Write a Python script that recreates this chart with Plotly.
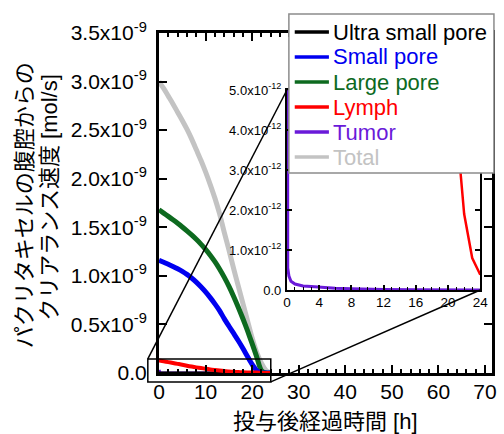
import plotly.graph_objects as go

# ---------------- data ----------------
hours = [0, 1, 2, 3, 4, 5, 6, 7, 8, 9, 10, 11, 12, 13, 14, 15, 16, 17, 18, 19, 20, 21, 22, 23, 24]
# clearance rates, units of 1e-9 mol/s
ultra_small = [0, 0, 0, 0, 0, 0, 0, 0, 0, 0, 0, 0, 0, 0, 0, 0, 0, 0, 0, 0, 0, 0, 0, 0, 0]
small_pore = [1.16, 1.140, 1.119, 1.097, 1.073, 1.046, 1.015, 0.978, 0.936, 0.888, 0.835,
              0.776, 0.712, 0.642, 0.560, 0.484, 0.410, 0.335, 0.255, 0.170, 0.088, 0.025,
              0.0, 0.0, 0.0]
large_pore = [1.68, 1.646, 1.612, 1.577, 1.541, 1.503, 1.463, 1.421, 1.376, 1.327, 1.273,
              1.213, 1.146, 1.071, 0.987, 0.894, 0.791, 0.680, 0.561, 0.435, 0.302, 0.163,
              0.025, 0.0, 0.0]
lymph = [0.130, 0.121, 0.112, 0.103, 0.094, 0.085, 0.075, 0.066, 0.058, 0.051, 0.044, 0.037,
         0.031, 0.025, 0.020, 0.016, 0.0125, 0.0098, 0.0075, 0.0062, 0.0052, 0.0042, 0.0019,
         0.0008, 0.00038]
total = [3.00, 2.93, 2.85, 2.77, 2.685, 2.60, 2.51, 2.41, 2.30, 2.19, 2.07, 1.94, 1.80,
         1.64, 1.45, 1.27, 1.08, 0.90, 0.72, 0.54, 0.36, 0.21, 0.10, 0.025, 0.0]
# tumor, finer time grid, units of 1e-12 mol/s
tumor_hours = [0, 0.1, 0.25, 0.5, 1, 1.5, 2, 3, 4, 5, 6, 8, 10, 12, 16, 20, 24]
tumor = [30, 0.55, 0.35, 0.22, 0.15, 0.12, 0.10, 0.085, 0.07, 0.055, 0.045, 0.03, 0.018,
         0.01, 0.005, 0.002, 0.001]

series_names = ["Ultra small pore", "Small pore", "Large pore", "Lymph", "Tumor", "Total"]
series_colors = ["#000000", "#0000f0", "#0d6a1f", "#ff0000", "#6a1ad9", "#c3c3c3"]

main_x_range = [0, 71.5]
main_y_range = [0, 3.5e-9]
main_y_ticks = [0, 0.5e-9, 1.0e-9, 1.5e-9, 2.0e-9, 2.5e-9, 3.0e-9, 3.5e-9]
main_y_text = ["0.0", "0.5x10<sup>-9</sup>", "1.0x10<sup>-9</sup>", "1.5x10<sup>-9</sup>",
               "2.0x10<sup>-9</sup>", "2.5x10<sup>-9</sup>", "3.0x10<sup>-9</sup>",
               "3.5x10<sup>-9</sup>"]
inset_x_range = [0, 24]
inset_y_range = [0, 5e-12]
inset_y_ticks = [0, 1e-12, 2e-12, 3e-12, 4e-12, 5e-12]
inset_y_text = ["0.0", "1.0x10<sup>-12</sup>", "2.0x10<sup>-12</sup>", "3.0x10<sup>-12</sup>",
                "4.0x10<sup>-12</sup>", "5.0x10<sup>-12</sup>"]
# zoom box drawn on main chart (data units)
zoom_box_x = [-2.4, 24]
zoom_box_y = [-0.092e-9, 0.145e-9]

x_title = "投与後経過時間 [h]"
y_title_lines = ["パクリタキセルの腹腔からの", "クリアランス速度 [mol/s]"]

# ---------------- layout geometry ----------------
W, H = 504, 434
L, R, T, B = 159, 4, 33, 61
PW, PH = W - L - R, H - T - B


def px(xp):
    return (xp - L) / PW


def py(yp):
    return (H - B - yp) / PH


FONT = "Liberation Sans, Arial, Noto Sans CJK JP, sans-serif"
inset_dom_x = [px(290), px(488)]
inset_dom_y = [py(290), py(90)]

fig = go.Figure()

e9 = 1e-9
# tumor is ~0 on the main scale; drawn first so the ultra-small (black) line covers it
fig.add_trace(go.Scatter(x=tumor_hours, y=[v * 1e-12 for v in tumor], mode="lines",
                         name=series_names[4], line=dict(color=series_colors[4], width=3),
                         showlegend=False, xaxis="x", yaxis="y"))
main_draw = [
    (ultra_small, 0, 3),
    (total, 5, 5),
    (large_pore, 2, 5),
    (small_pore, 1, 5),
    (lymph, 3, 4),
]
for vals, idx, w in main_draw:
    fig.add_trace(go.Scatter(x=hours, y=[v * e9 for v in vals], mode="lines",
                             name=series_names[idx],
                             line=dict(color=series_colors[idx], width=w, shape="spline",
                                       smoothing=0.8),
                             showlegend=False, xaxis="x", yaxis="y"))

# inset traces
fig.add_trace(go.Scatter(x=hours, y=[v * e9 for v in lymph], mode="lines",
                         name=series_names[3], line=dict(color=series_colors[3], width=2.5),
                         showlegend=False, xaxis="x2", yaxis="y2"))
fig.add_trace(go.Scatter(x=tumor_hours, y=[v * 1e-12 for v in tumor], mode="lines",
                         name=series_names[4], line=dict(color=series_colors[4], width=3),
                         showlegend=False, xaxis="x2", yaxis="y2"))

axis_common = dict(showgrid=False, zeroline=False, showline=True, linecolor="black",
                   ticks="inside", tickcolor="black", mirror="ticks")

fig.update_layout(
    width=W, height=H,
    margin=dict(l=L, r=R, t=T, b=B),
    paper_bgcolor="white", plot_bgcolor="white",
    font=dict(family=FONT, color="black"),
    showlegend=False,
    xaxis=dict(domain=[0, 1], range=main_x_range, tick0=0, dtick=10, ticklen=8, tickwidth=2,
               linewidth=3, tickfont=dict(size=21), ticklabelstandoff=-2,
               minor=dict(dtick=2, ticks="inside", ticklen=4, tickwidth=1.5, tickcolor="black"),
               **axis_common),
    yaxis=dict(domain=[0, 1], range=main_y_range, tickvals=main_y_ticks, ticktext=main_y_text,
               ticklen=8, tickwidth=2, linewidth=3, tickfont=dict(size=21),
               ticklabelstandoff=5, **axis_common),
    xaxis2=dict(domain=inset_dom_x, anchor="y2", range=inset_x_range, tick0=0, dtick=4,
                ticklen=5, tickwidth=1.5, linewidth=2, tickfont=dict(size=13.5),
                ticklabelstandoff=-1,
                minor=dict(dtick=1, ticks="inside", ticklen=3, tickwidth=1, tickcolor="black"),
                **axis_common),
    yaxis2=dict(domain=inset_dom_y, anchor="x2", range=inset_y_range, tickvals=inset_y_ticks,
                ticktext=inset_y_text, ticklen=5, tickwidth=1.5, linewidth=2,
                tickfont=dict(size=13), ticklabelstandoff=1, **axis_common),
)

shapes = []
annotations = []


def mx(v):
    return (v - main_x_range[0]) / (main_x_range[1] - main_x_range[0])


def my(v):
    return (v - main_y_range[0]) / (main_y_range[1] - main_y_range[0])


# zoom box in paper coordinates derived from main axis ranges
bx0, bx1 = mx(zoom_box_x[0]), mx(zoom_box_x[1])
by0, by1 = my(zoom_box_y[0]), my(zoom_box_y[1])
shapes.append(dict(type="rect", xref="paper", yref="paper", x0=bx0, x1=bx1, y0=by0, y1=by1,
                   line=dict(color="black", width=1.5), layer="above"))
shapes.append(dict(type="line", xref="paper", yref="paper", x0=bx0, y0=by1,
                   x1=inset_dom_x[0], y1=inset_dom_y[1],
                   line=dict(color="black", width=1.5), layer="above"))
shapes.append(dict(type="line", xref="paper", yref="paper", x0=bx1, y0=by0,
                   x1=inset_dom_x[1], y1=inset_dom_y[0],
                   line=dict(color="black", width=1.5), layer="above"))

# manual legend
shapes.append(dict(type="rect", xref="paper", yref="paper", x0=px(292), x1=px(502),
                   y0=py(173), y1=py(14), line=dict(color="#8c8c8c", width=1.5),
                   fillcolor="white", layer="above"))
for i, (nm, col) in enumerate(zip(series_names, series_colors)):
    yc = py(32 + 25 * i)
    shapes.append(dict(type="line", xref="paper", yref="paper", x0=px(298), x1=px(333),
                       y0=yc, y1=yc, line=dict(color=col, width=3.5), layer="above"))
    annotations.append(dict(text=nm, xref="paper", yref="paper", x=px(335), y=yc,
                            xanchor="left", yanchor="middle", showarrow=False,
                            font=dict(size=22, color=col, family=FONT)))

# axis titles
annotations.append(dict(text=x_title, xref="paper", yref="paper", x=0.5, y=py(421),
                        xanchor="center", yanchor="middle", showarrow=False,
                        font=dict(size=22, family=FONT)))
annotations.append(dict(text=y_title_lines[0], xref="paper", yref="paper", x=px(21), y=py(205),
                        xanchor="center", yanchor="middle", showarrow=False, textangle=-90,
                        font=dict(size=22, family=FONT)))
annotations.append(dict(text=y_title_lines[1], xref="paper", yref="paper", x=px(46), y=py(198),
                        xanchor="center", yanchor="middle", showarrow=False, textangle=-90,
                        font=dict(size=22, family=FONT)))

fig.update_layout(shapes=shapes, annotations=annotations)
fig.write_html("out.html", config={"displayModeBar": False},
               post_script="document.body.style.margin='0px';")
